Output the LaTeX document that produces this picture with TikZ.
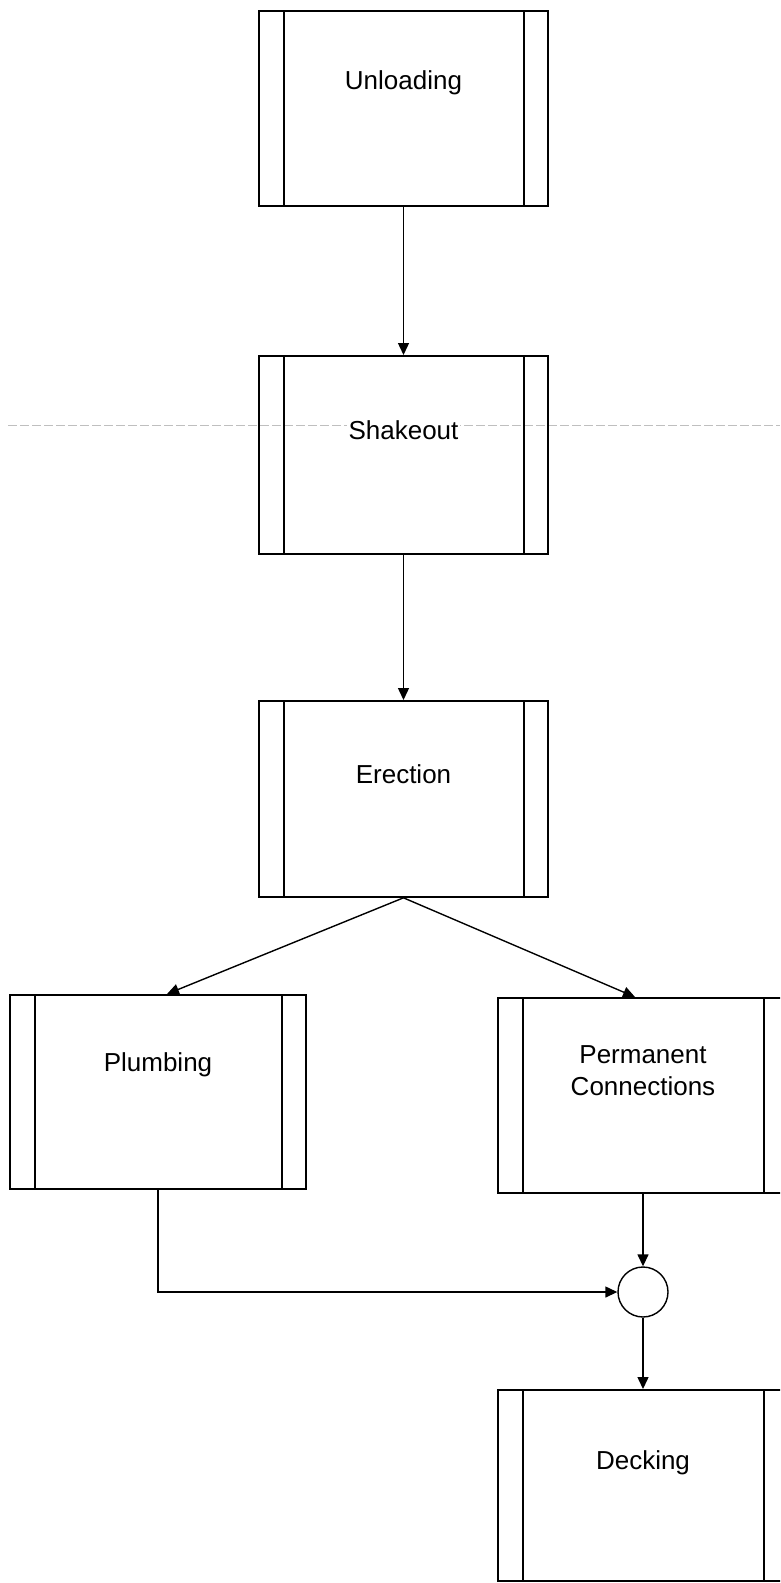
\documentclass[tikz,border=0pt]{standalone}
\usepackage{fontspec}
\setmainfont{Liberation Sans}
\usetikzlibrary{arrows.meta,calc}

\tikzset{
  % process box: outline with a narrow strip at each side
  procbox/.style={draw, line width=1.8pt, rectangle, anchor=north,
    minimum height=195pt, minimum width=290pt, inner sep=0pt,
    path picture={
      \draw[line width=1.8pt]
        ([xshift=25pt]path picture bounding box.north west) --
        ([xshift=25pt]path picture bounding box.south west);
      \draw[line width=1.8pt]
        ([xshift=-24pt]path picture bounding box.north east) --
        ([xshift=-24pt]path picture bounding box.south east);
    }},
  proctext/.style={font=\fontsize{26}{32}\selectfont, align=center,
    inner sep=2pt, fill=white},
  flow/.style={line width=1.4pt, -{Triangle[length=12pt,width=11pt]}},
  joint/.style={circle, draw, line width=1.4pt, minimum size=50pt, inner sep=0pt},
  guideline/.style={gray!50, line width=0.8pt, dash pattern=on 9pt off 3pt},
}

\begin{document}
\begin{tikzpicture}[x=1pt, y=-1pt]
  \useasboundingbox (0,0) rectangle (780,1583);
  \clip (0,0) rectangle (780,1583);
  \fill[white] (0,0) rectangle (780,1583);

  % faint horizontal rule across the page
  \draw[guideline] (8,425) -- (780,425);

  % process boxes
  \node[procbox, minimum width=289pt] (unl) at (403.5,10)  {};
  \node[procbox, minimum width=289pt, minimum height=198pt] (shk) at (403.5,355) {};
  \node[procbox, minimum width=289pt, minimum height=196pt] (ere) at (403.5,700) {};
  \node[procbox, minimum width=296pt, minimum height=194pt] (plm) at (158,994)   {};
  \node[procbox] (prm) at (643,997)  {};
  \node[procbox, minimum height=191pt] (dck) at (643,1389) {};

  % box labels
  \node[proctext] (unlT) at (403.5,83)  {Unloading};
  \node[proctext] (shkT) at (403.5,430) {Shakeout};
  \node[proctext] (ereT) at (403.5,774) {Erection};
  \node[proctext] (plmT) at (158,1065)  {Plumbing};
  \node[proctext] (prmT) at (643,1071)  {Permanent\\Connections};
  \node[proctext] (dckT) at (643,1463)  {Decking};

  % junction
  \node[joint] (jn) at (643,1292) {};

  % connectors
  \draw[flow] (unl.south) -- (shk.north);
  \draw[flow] (shk.south) -- (ere.north);
  \draw[flow] (ere.south) -- ([xshift=9pt]plm.north);
  \draw[flow] (ere.south) -- ([xshift=-8pt]prm.north);
  \draw[flow] (prm.south) -- (jn.north);
  \draw[flow] (plm.south) |- (jn.west);
  \draw[flow] (jn.south) -- (dck.north);
\end{tikzpicture}
\end{document}
